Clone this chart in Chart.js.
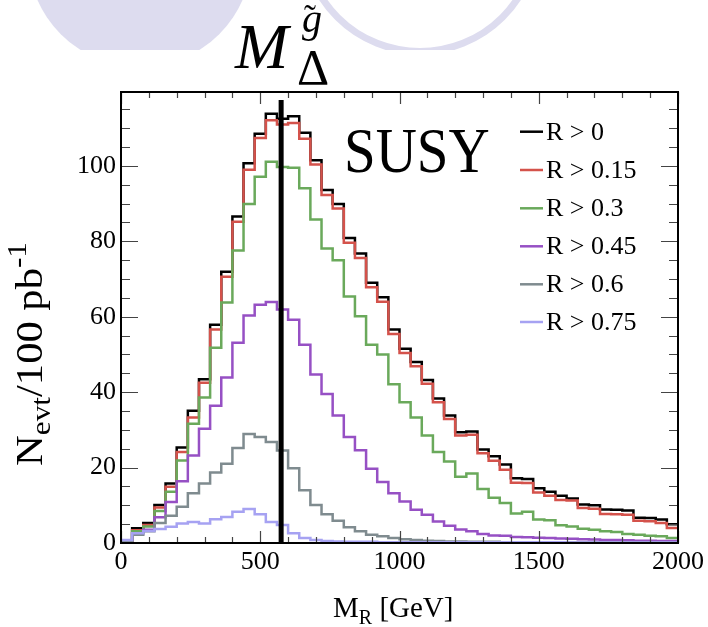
<!DOCTYPE html>
<html>
<head>
<meta charset="utf-8">
<script src="https://cdn.jsdelivr.net/npm/chart.js@4.4.1/dist/chart.umd.min.js"></script>
<style>
  body { margin: 0; background: #fff; }
  #wrap { width: 708px; height: 627px; }
</style>
</head>
<body>
<div id="wrap"><canvas id="mr-chart" width="708" height="627"></canvas></div>
<script>
// lower edges of the 40 GeV M_R bins
const mrBinLow = [0, 40, 80, 120, 160, 200, 240, 280, 320, 360,
  400, 440, 480, 520, 560, 600, 640, 680, 720, 760,
  800, 840, 880, 920, 960, 1000, 1040, 1080, 1120, 1160,
  1200, 1240, 1280, 1320, 1360, 1400, 1440, 1480, 1520, 1560,
  1600, 1640, 1680, 1720, 1760, 1800, 1840, 1880, 1920, 1960]
const mrHigh = 2000
const gluinoMass = 575
const gluinoLineTop = 117.5
const xTickValues = [0, 500, 1000, 1500, 2000]
const yTickValues = [0, 20, 40, 60, 80, 100]

const cutLabels = ['R > 0', 'R > 0.15', 'R > 0.3', 'R > 0.45', 'R > 0.6', 'R > 0.75']

const evtR0 = [0.6, 3.9, 5.3, 10.1, 15.8, 25.3, 35.1, 43.4, 57.9, 71.9,
  86.6, 100.7, 108.5, 113.8, 112.5, 113.2, 108.8, 101.5, 93.6, 89.9,
  80.9, 76.8, 69.0, 65.2, 56.6, 51.5, 48.0, 43.2, 38.3, 33.8,
  29.4, 29.6, 24.8, 23.0, 20.8, 17.2, 17.0, 14.5, 13.6, 12.5,
  11.8, 10.2, 10.0, 8.9, 8.8, 8.6, 6.7, 6.6, 6.2, 5.0]
const evtR015 = [0.5, 3.4, 4.8, 9.4, 14.9, 24.1, 33.3, 42.5, 56.6, 70.6,
  85.2, 99.0, 107.4, 112.1, 111.0, 111.4, 107.2, 100.4, 92.3, 88.7,
  79.6, 75.6, 67.8, 64.0, 55.4, 50.4, 46.9, 42.2, 37.3, 32.9,
  28.5, 28.7, 23.8, 21.8, 19.4, 16.0, 15.9, 13.4, 12.5, 11.4,
  11.3, 9.3, 9.1, 7.7, 7.6, 7.5, 5.9, 5.8, 5.3, 4.0]
const evtR03 = [0.6, 3.1, 4.4, 8.5, 13.6, 21.9, 31.6, 38.6, 51.8, 63.8,
  77.6, 89.9, 97.1, 101.1, 99.7, 99.5, 94.1, 85.8, 78.1, 75.0,
  65.4, 60.1, 52.6, 50.0, 42.1, 37.3, 33.3, 28.5, 24.1, 21.6,
  17.6, 18.4, 14.3, 12.0, 10.6, 7.8, 8.3, 6.2, 6.0, 4.7,
  4.4, 3.8, 3.5, 3.1, 2.9, 2.4, 2.2, 1.9, 1.8, 1.3]
const evtR045 = [0.5, 2.6, 3.5, 6.8, 10.9, 16.4, 23.2, 30.3, 36.4, 43.9,
  53.1, 60.3, 63.2, 63.9, 61.9, 59.2, 52.6, 44.7, 39.5, 33.8,
  28.1, 24.6, 19.7, 16.2, 13.2, 11.0, 8.8, 7.5, 5.7, 4.6,
  3.6, 3.1, 2.4, 2.0, 1.9, 1.6, 1.5, 1.4, 1.3, 1.2,
  1.1, 1.0, 0.9, 0.8, 0.8, 0.7, 0.6, 0.6, 0.5, 0.5]
const evtR06 = [0.5, 2.2, 3.1, 5.3, 7.2, 9.6, 13.2, 15.8, 18.7, 21.0,
  25.2, 28.9, 28.1, 26.8, 24.5, 19.8, 14.0, 10.1, 7.6, 5.9,
  4.2, 3.1, 2.2, 1.8, 1.3, 1.0, 0.8, 0.6, 0.5, 0.4,
  0.4, 0.3, 0.3, 0.3, 0.2, 0.2, 0.2, 0.2, 0.2, 0.1,
  0.1, 0.1, 0.1, 0.1, 0.1, 0.1, 0.1, 0.1, 0.1, 0.1]
const evtR075 = [0.8, 2.6, 3.2, 3.7, 4.3, 5.2, 5.6, 5.2, 6.3, 6.9,
  8.3, 9.0, 7.6, 5.6, 4.8, 2.6, 1.3, 0.8, 0.5, 0.4,
  0.3, 0.3, 0.3, 0.2, 0.2, 0.2, 0.2, 0.2, 0.2, 0.2,
  0.2, 0.2, 0.2, 0.2, 0.2, 0.2, 0.2, 0.2, 0.2, 0.2,
  0.1, 0.1, 0.1, 0.1, 0.1, 0.1, 0.1, 0.1, 0.1, 0.1]

const cutColors = ['#000000', '#d4524b', '#6aa95b', '#9650c4', '#7f8b8f', '#a6a2f2']
const serif = '"Liberation Serif", "DejaVu Serif", serif'

// histogram -> step points (one per low edge, plus the closing edge)
let toSteps = (values) => {
  let pts = mrBinLow.map((lo, i) => ({ x: lo, y: values[i] }))
  pts.push({ x: mrHigh, y: values[values.length - 1] })
  return pts
}

let drawRich = (ctx, x, y, parts) => {
  for (const p of parts) {
    ctx.font = (p.style || '') + ' ' + p.size + 'px ' + serif
    ctx.fillText(p.text, x + (p.dx || 0), y + (p.dy || 0))
    x += ctx.measureText(p.text).width + (p.dx || 0)
  }
  return x
}

const decorPlugin = {
  id: 'decor',
  beforeDraw(chart) {
    const ctx = chart.ctx
    ctx.save()
    ctx.fillStyle = '#fff'
    ctx.fillRect(0, 0, chart.width, chart.height)
    // faint slide background shapes, cut off at the top
    ctx.beginPath(); ctx.rect(0, 0, chart.width, 50); ctx.clip()
    ctx.fillStyle = '#dddcef'
    ctx.beginPath(); ctx.arc(140, -45, 112, 0, Math.PI * 2); ctx.fill()
    ctx.strokeStyle = '#dddcef'; ctx.lineWidth = 7
    ctx.beginPath(); ctx.arc(420, -65, 116.5, 0, Math.PI * 2); ctx.stroke()
    ctx.restore()

    ctx.save()
    ctx.fillStyle = '#fff'
    ctx.fillRect(236, 15, 94, 75)
    ctx.fillStyle = '#000'
    ctx.textBaseline = 'alphabetic'
    ctx.textAlign = 'left'
    ctx.font = 'italic 64px ' + serif
    ctx.fillText('M', 235, 68)
    ctx.font = '50px ' + serif
    ctx.fillText('\u0394', 297, 84)
    ctx.font = 'italic 40px ' + serif
    ctx.fillText('g', 302, 32)
    ctx.font = '36px ' + serif
    ctx.fillText('\u02DC', 304, 30)
    ctx.restore()
  },
  afterDatasetsDraw(chart) {
    const ctx = chart.ctx
    const a = chart.chartArea
    const xs = chart.scales.x
    const ys = chart.scales.y
    ctx.save()
    // inner ticks on all four sides
    ctx.strokeStyle = '#444'
    ctx.lineWidth = 1.2
    ctx.beginPath()
    for (let v = 0; v <= ys.max; v += 5) {
      const py = Math.round(ys.getPixelForValue(v)) + 0.5
      const len = v % 20 === 0 ? 17 : 9
      ctx.moveTo(a.left, py); ctx.lineTo(a.left + len, py)
      ctx.moveTo(a.right, py); ctx.lineTo(a.right - len, py)
    }
    for (let v = 0; v <= xs.max; v += 100) {
      const px = Math.round(xs.getPixelForValue(v)) + 0.5
      const len = v % 500 === 0 ? 12 : 6
      ctx.moveTo(px, a.bottom); ctx.lineTo(px, a.bottom - len)
      ctx.moveTo(px, a.top); ctx.lineTo(px, a.top + len)
    }
    ctx.stroke()
    // frame
    ctx.strokeStyle = '#000'
    ctx.lineWidth = 2
    ctx.strokeRect(a.left, a.top, a.right - a.left, a.bottom - a.top)

    // SUSY label
    ctx.fillStyle = '#000'
    ctx.textAlign = 'left'
    ctx.textBaseline = 'alphabetic'
    ctx.save()
    ctx.translate(344, 172)
    ctx.scale(1, 1.1)
    ctx.font = '57px ' + serif
    ctx.fillText('SUSY', 0, 0)
    ctx.restore()

    // legend
    const rowY = [131.7, 170, 208.3, 246.3, 284.3, 322]
    chart.data.datasets.forEach((ds, i) => {
      if (!ds.label) return
      const y = rowY[i]
      ctx.strokeStyle = ds.borderColor
      ctx.lineWidth = 2.5
      ctx.beginPath(); ctx.moveTo(520, y); ctx.lineTo(543, y); ctx.stroke()
      ctx.fillStyle = '#000'
      ctx.font = '26px ' + serif
      ctx.textBaseline = 'middle'
      ctx.fillText(ds.label, 546, y + 1)
    })

    // axis titles
    ctx.textBaseline = 'alphabetic'
    ctx.fillStyle = '#000'
    drawRich(ctx, 333, 617, [
      { text: 'M', size: 29 },
      { text: 'R', size: 20, dy: 7 },
      { text: ' [GeV]', size: 29 }
    ])
    ctx.translate(42, 466)
    ctx.rotate(-Math.PI / 2)
    ctx.scale(1.12, 1)
    drawRich(ctx, 0, 0, [
      { text: 'N', size: 38 },
      { text: 'evt', size: 28, dy: 8 },
      { text: '/100 pb', size: 38 },
      { text: '-1', size: 28, dy: -16 }
    ])
    ctx.restore()
  }
}

const ctx = document.getElementById('mr-chart').getContext('2d')
const mrChart = new Chart(ctx, {
  type: 'line',
  plugins: [decorPlugin],
  data: {
    datasets: [
      { label: cutLabels[0], data: toSteps(evtR0), borderColor: cutColors[0], order: 6 },
      { label: cutLabels[1], data: toSteps(evtR015), borderColor: cutColors[1], order: 5 },
      { label: cutLabels[2], data: toSteps(evtR03), borderColor: cutColors[2], order: 4 },
      { label: cutLabels[3], data: toSteps(evtR045), borderColor: cutColors[3], order: 3 },
      { label: cutLabels[4], data: toSteps(evtR06), borderColor: cutColors[4], order: 2 },
      { label: cutLabels[5], data: toSteps(evtR075), borderColor: cutColors[5], order: 1 },
      {
        label: '',
        data: [{ x: gluinoMass, y: 0 }, { x: gluinoMass, y: gluinoLineTop }],
        borderColor: '#000', borderWidth: 5, stepped: false, order: 0
      }
    ]
  },
  options: {
    responsive: false,
    devicePixelRatio: 1,
    animation: false,
    layout: { padding: { left: 0, right: 28, top: 92, bottom: 0 } },
    elements: {
      line: { borderWidth: 2.5, stepped: true, tension: 0, fill: false },
      point: { radius: 0 }
    },
    scales: {
      x: {
        type: 'linear',
        min: 0,
        max: mrHigh,
        grid: { display: false, drawTicks: false },
        border: { display: false },
        afterFit: (scale) => { scale.height = 84 },
        afterBuildTicks: (scale) => { scale.ticks = xTickValues.map(v => ({ value: v })) },
        ticks: {
          autoSkip: false,
          maxRotation: 0,
          padding: 4,
          color: '#000',
          font: { family: serif, size: 26 },
          callback: (v) => String(v)
        }
      },
      y: {
        type: 'linear',
        min: 0,
        max: 119.6,
        grid: { display: false, drawTicks: false },
        border: { display: false },
        afterFit: (scale) => { scale.width = 121 },
        afterBuildTicks: (scale) => { scale.ticks = yTickValues.map(v => ({ value: v })) },
        ticks: {
          padding: 5,
          color: '#000',
          font: { family: serif, size: 26 },
          callback: (v) => String(v)
        }
      }
    },
    plugins: {
      legend: { display: false },
      tooltip: { enabled: false },
      title: { display: false }
    }
  }
})
</script>
</body>
</html>
